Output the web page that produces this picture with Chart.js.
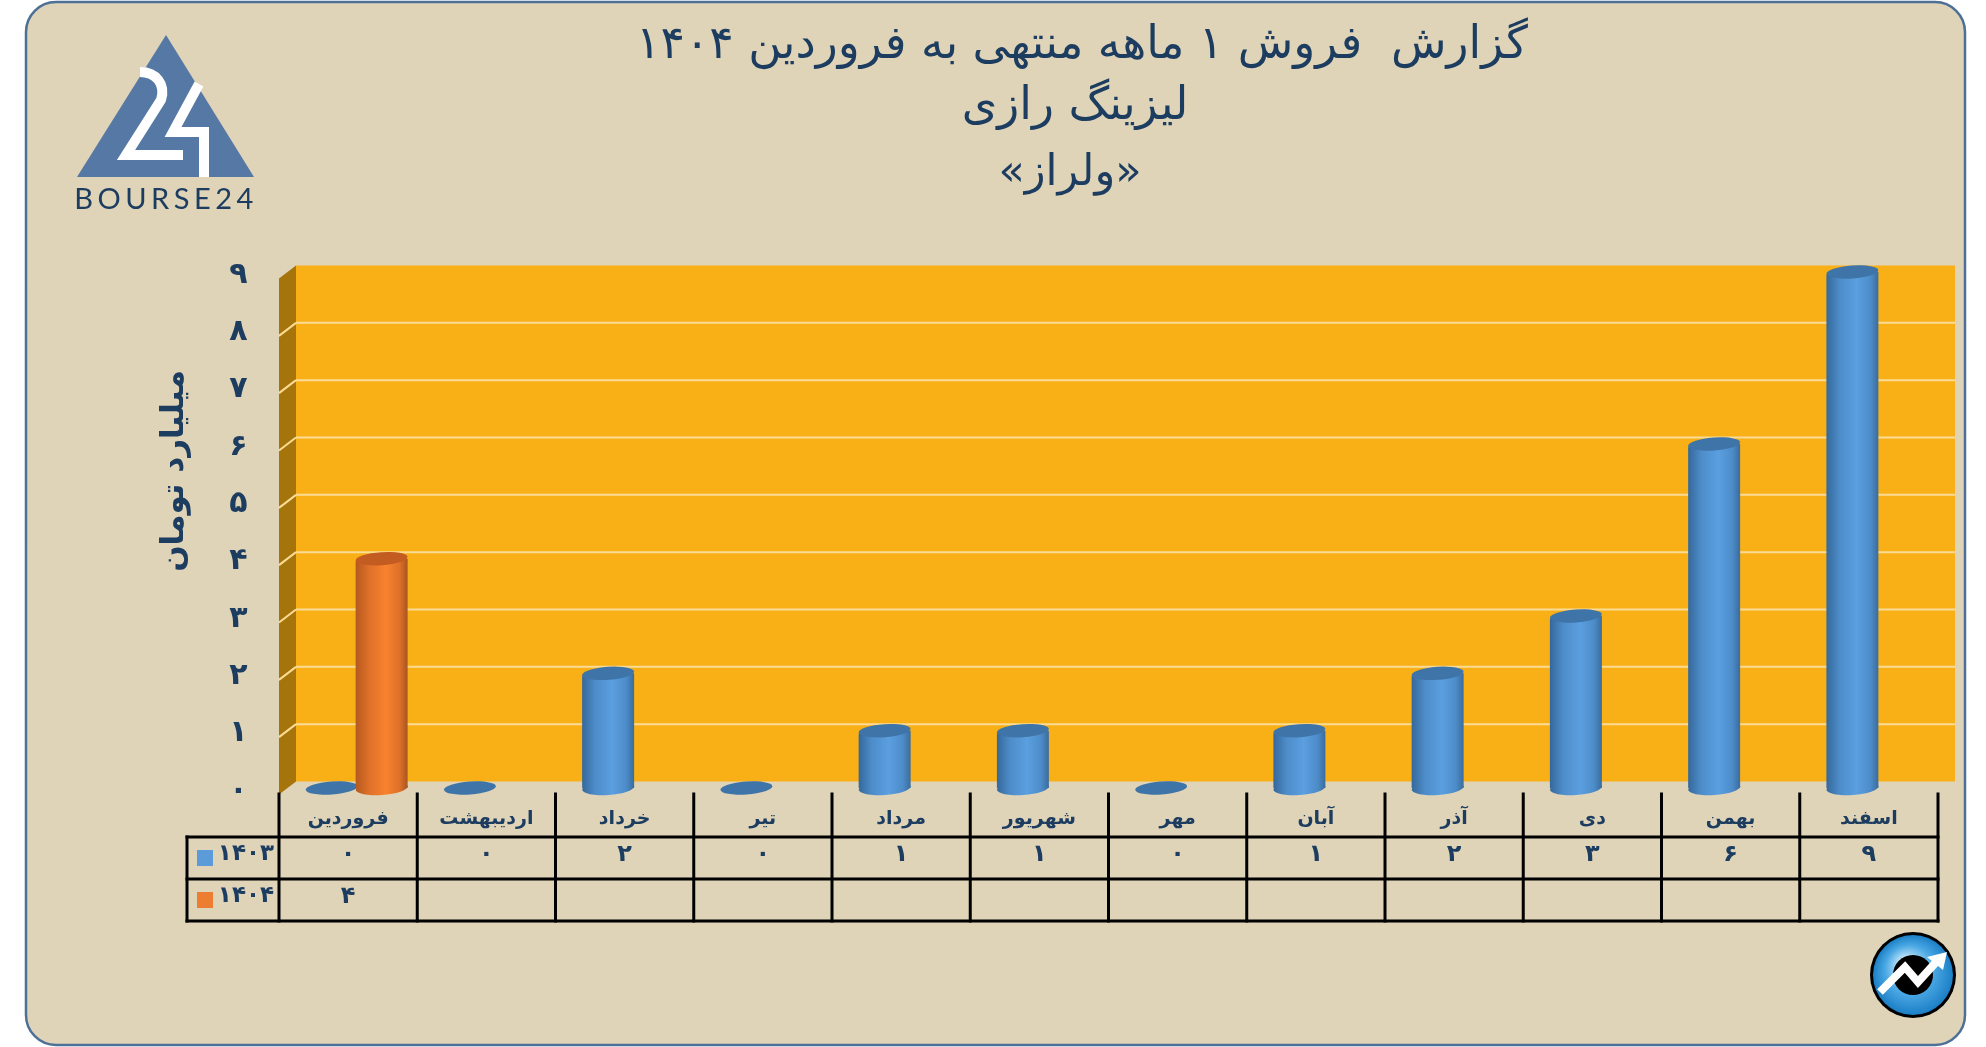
<!DOCTYPE html>
<html lang="fa" dir="rtl">
<head>
<meta charset="utf-8">
<title>ولراز</title>
<style>
  html, body { margin: 0; padding: 0; background: #fff; overflow: hidden; }
  canvas { display: block; direction: rtl; }
</style>
<script src="https://cdn.jsdelivr.net/npm/chart.js@4"></script>
</head>
<body>
<canvas id="chart" width="1986" height="1047"></canvas>
<script>
const categories = ['فروردین', 'اردیبهشت', 'خرداد', 'تیر', 'مرداد', 'شهریور', 'مهر', 'آبان', 'آذر', 'دی', 'بهمن', 'اسفند'];
const values1403 = [0, 0, 2, 0, 1, 1, 0, 1, 2, 3, 6, 9];
const values1404 = [4, null, null, null, null, null, null, null, null, null, null, null];
const seriesNames = ['۱۴۰۳', '۱۴۰۴'];
const tickLabels = ['۰', '۱', '۲', '۳', '۴', '۵', '۶', '۷', '۸', '۹'];
const cellLabels = { 0: '۰', 1: '۱', 2: '۲', 3: '۳', 4: '۴', 6: '۶', 9: '۹' };
const titleLines = ['گزارش  فروش ۱ ماهه منتهی به فروردین ۱۴۰۴', 'لیزینگ رازی', '«ولراز»'];
const axisTitle = 'میلیارد تومان';

const FONT = '"DejaVu Sans", "Noto Sans", sans-serif';
const NAVY = '#1c3d60';
// the 3D depth: the bars stand on the middle plane, which is the chart area
const DEPTH_X = 8.5;
const DEPTH_Y = 6.5;

const blueStops = ['#35689a', '#4d8cc9', '#5b9fe0', '#3a6c9c'];
const orangeStops = ['#b5591f', '#dd7029', '#f9822e', '#a85420'];

function cylinderFill(context, shift, stops) {
  if (context.dataIndex === undefined) return stops[2];
  const chart = context.chart;
  const x = chart.scales.x.getPixelForValue(context.dataIndex) + shift;
  // scales have no pixels yet on the first option pass
  if (!isFinite(x)) return stops[2];
  const g = chart.ctx.createLinearGradient(x - 26, 0, x + 26, 0);
  g.addColorStop(0, stops[0]);
  g.addColorStop(0.25, stops[1]);
  g.addColorStop(0.58, stops[2]);
  g.addColorStop(0.85, stops[1]);
  g.addColorStop(1, stops[3]);
  return g;
}

function drawCaps(chart, index, values, shift, stops, capColor) {
  const ctx = chart.ctx;
  const meta = chart.getDatasetMeta(index);
  const tilt = -0.07;
  values.forEach((v, i) => {
    if (v === null) return;
    const el = meta.data[i];
    const rx = el.width / 2;
    if (v > 0) {
      ctx.fillStyle = cylinderFill({ chart, dataIndex: i }, shift, stops);
      ctx.beginPath();
      ctx.ellipse(el.x, el.base, rx, 7, tilt, 0, Math.PI * 2);
      ctx.fill();
    }
    ctx.fillStyle = capColor;
    ctx.beginPath();
    ctx.ellipse(el.x, el.y, rx, 6.5, tilt, 0, Math.PI * 2);
    ctx.fill();
  });
}

function line(ctx, x1, y1, x2, y2) {
  ctx.beginPath();
  ctx.moveTo(x1, y1);
  ctx.lineTo(x2, y2);
  ctx.stroke();
}

function drawLogo(ctx) {
  ctx.save();
  ctx.fillStyle = '#5578a4';
  ctx.beginPath();
  ctx.moveTo(166, 35);
  ctx.lineTo(254, 177);
  ctx.lineTo(77, 177);
  ctx.closePath();
  ctx.fill();
  ctx.strokeStyle = '#fff';
  ctx.lineWidth = 10;
  ctx.lineJoin = 'miter';
  ctx.beginPath();
  ctx.moveTo(140, 72);
  ctx.bezierCurveTo(156, 72, 166, 84, 161, 100);
  ctx.lineTo(126, 155);
  ctx.lineTo(183, 155);
  ctx.stroke();
  ctx.beginPath();
  ctx.moveTo(199, 84);
  ctx.lineTo(173, 132);
  ctx.lineTo(204, 132);
  ctx.lineTo(204, 177);
  ctx.stroke();
  ctx.fillStyle = NAVY;
  ctx.font = '29px "Lato", sans-serif';
  ctx.textAlign = 'center';
  ctx.textBaseline = 'middle';
  ctx.direction = 'ltr';
  ctx.letterSpacing = '4.5px';
  ctx.fillText('BOURSE24', 166, 200);
  ctx.restore();
}

function drawBadge(ctx) {
  const cx = 1913, cy = 975;
  ctx.save();
  ctx.fillStyle = '#000';
  ctx.beginPath();
  ctx.arc(cx, cy, 43, 0, Math.PI * 2);
  ctx.fill();
  const g = ctx.createRadialGradient(cx - 8, cy - 12, 5, cx, cy, 40);
  g.addColorStop(0, '#c5e6f8');
  g.addColorStop(0.55, '#4aa8e4');
  g.addColorStop(1, '#1c7fc6');
  ctx.fillStyle = g;
  ctx.beginPath();
  ctx.arc(cx, cy, 40, 0, Math.PI * 2);
  ctx.fill();
  ctx.fillStyle = '#000';
  ctx.beginPath();
  ctx.arc(cx, cy, 20, 0, Math.PI * 2);
  ctx.fill();
  ctx.strokeStyle = '#fff';
  ctx.lineWidth = 8;
  ctx.beginPath();
  ctx.moveTo(1880, 992);
  ctx.lineTo(1905, 967);
  ctx.lineTo(1918, 982);
  ctx.lineTo(1938, 960);
  ctx.stroke();
  ctx.fillStyle = '#fff';
  ctx.beginPath();
  ctx.moveTo(1927, 957);
  ctx.lineTo(1947, 952);
  ctx.lineTo(1943, 970);
  ctx.closePath();
  ctx.fill();
  ctx.restore();
}

const cylinders = {
  id: 'cylinders',
  beforeDraw(chart) {
    const ctx = chart.ctx;
    ctx.save();
    ctx.fillStyle = '#dfd3b8';
    ctx.strokeStyle = '#4d7096';
    ctx.lineWidth = 2.5;
    ctx.beginPath();
    ctx.roundRect(26, 2, 1939, 1043, 30);
    ctx.fill();
    ctx.stroke();
    ctx.restore();
    drawLogo(ctx);
    drawBadge(ctx);

    ctx.save();
    ctx.fillStyle = NAVY;
    ctx.textAlign = 'center';
    ctx.textBaseline = 'middle';
    ctx.font = '45.5px ' + FONT;
    ctx.fillText(titleLines[0], 1082, 46);
    ctx.fillText(titleLines[1], 1075, 107);
    ctx.font = '43px ' + FONT;
    ctx.fillText(titleLines[2], 1070, 174);
    ctx.translate(175, 471);
    ctx.rotate(-Math.PI / 2);
    ctx.font = 'bold 31px ' + FONT;
    ctx.fillText(axisTitle, 0, 0);
    ctx.restore();
  },
  beforeDatasetsDraw(chart) {
    const ctx = chart.ctx;
    const { left, right, top, bottom } = chart.chartArea;
    ctx.save();
    // back wall
    ctx.fillStyle = '#f9b017';
    ctx.fillRect(left + DEPTH_X, top - DEPTH_Y, right - left, bottom - top);
    // side wall
    ctx.fillStyle = '#a5740a';
    ctx.beginPath();
    ctx.moveTo(left - DEPTH_X, top + DEPTH_Y);
    ctx.lineTo(left + DEPTH_X, top - DEPTH_Y);
    ctx.lineTo(left + DEPTH_X, bottom - DEPTH_Y);
    ctx.lineTo(left - DEPTH_X, bottom + DEPTH_Y);
    ctx.closePath();
    ctx.fill();
    // grid lines on both walls
    ctx.strokeStyle = '#fbdc97';
    ctx.lineWidth = 2;
    chart.scales.y.ticks.forEach(t => {
      if (t.value === 0 || t.value === 9) return;
      const y = chart.scales.y.getPixelForValue(t.value);
      line(ctx, left - DEPTH_X, y + DEPTH_Y, left + DEPTH_X, y - DEPTH_Y);
      line(ctx, left + DEPTH_X, y - DEPTH_Y, right + DEPTH_X, y - DEPTH_Y);
    });
    ctx.restore();
  },
  beforeDatasetDraw(chart, args) {
    // the 1404 column has to sit in front of 1403, so it is drawn last
    if (args.index === 1) return false;
  },
  afterDatasetsDraw(chart) {
    drawCaps(chart, 0, values1403, -25, blueStops, '#3f74a8');
    chart.getDatasetMeta(1).controller.draw();
    drawCaps(chart, 1, values1404, 25, orangeStops, '#c25c20');
  },
  afterDraw(chart) {
    const ctx = chart.ctx;
    const x = chart.scales.x;
    const { left } = chart.chartArea;
    const step = x.getPixelForValue(1) - x.getPixelForValue(0);
    const front = left - DEPTH_X;
    const rows = [794, 837, 879, 921];
    const tableLeft = 187;
    const tableRight = front + step * categories.length;
    ctx.save();
    ctx.strokeStyle = '#000';
    ctx.lineWidth = 3;
    ctx.lineCap = 'square';
    for (let i = 0; i <= categories.length; i++) {
      const px = front + step * i;
      line(ctx, px, rows[0], px, rows[3]);
    }
    line(ctx, tableLeft, rows[1], tableLeft, rows[3]);
    for (let r = 1; r <= 3; r++) line(ctx, tableLeft, rows[r], tableRight, rows[r]);

    ctx.fillStyle = NAVY;
    ctx.font = 'bold 24px ' + FONT;
    ctx.textAlign = 'center';
    ctx.textBaseline = 'middle';
    [values1403, values1404].forEach((values, s) => {
      const y = rows[s + 1] + 18;
      values.forEach((v, i) => {
        if (v === null) return;
        ctx.fillText(cellLabels[v], front + step * (i + 0.5), y);
      });
    });
    ctx.textAlign = 'right';
    ctx.font = 'bold 23px ' + FONT;
    seriesNames.forEach((name, s) => {
      const y = rows[s + 1] + 17;
      ctx.fillStyle = NAVY;
      ctx.fillText(name, 274, y);
      ctx.fillStyle = s === 0 ? '#5b9bd9' : '#ed7d31';
      ctx.fillRect(197, rows[s + 1] + 13, 16, 16);
    });
    ctx.restore();
  }
};

new Chart(document.getElementById('chart').getContext('2d'), {
  type: 'bar',
  data: {
    labels: categories,
    datasets: [
      {
        label: seriesNames[0],
        data: values1403,
        backgroundColor: c => cylinderFill(c, -25, blueStops)
      },
      {
        label: seriesNames[1],
        data: values1404,
        backgroundColor: c => cylinderFill(c, 25, orangeStops)
      }
    ]
  },
  plugins: [cylinders],
  options: {
    responsive: false,
    animation: false,
    devicePixelRatio: 1,
    categoryPercentage: 0.723,
    barPercentage: 1.04,
    borderRadius: { topLeft: 4, topRight: 0, bottomLeft: 0, bottomRight: 0 },
    layout: { padding: { top: 272, right: 39.5, bottom: 0, left: 0 } },
    plugins: {
      legend: { display: false },
      tooltip: { enabled: false }
    },
    scales: {
      x: {
        grid: { display: false },
        border: { display: false },
        afterFit(scale) { scale.height = 259; },
        ticks: {
          autoSkip: false,
          maxRotation: 0,
          padding: 12,
          labelOffset: -DEPTH_X,
          color: NAVY,
          font: { family: FONT, size: 19, weight: 'bold' }
        }
      },
      y: {
        min: 0,
        max: 9,
        grid: { display: false },
        border: { display: false },
        afterFit(scale) { scale.width = 287.5; },
        ticks: {
          stepSize: 1,
          padding: 32,
          labelOffset: 3,
          color: NAVY,
          font: { family: FONT, size: 30, weight: 'bold' },
          callback: v => tickLabels[v]
        }
      }
    }
  }
});
</script>
</body>
</html>
